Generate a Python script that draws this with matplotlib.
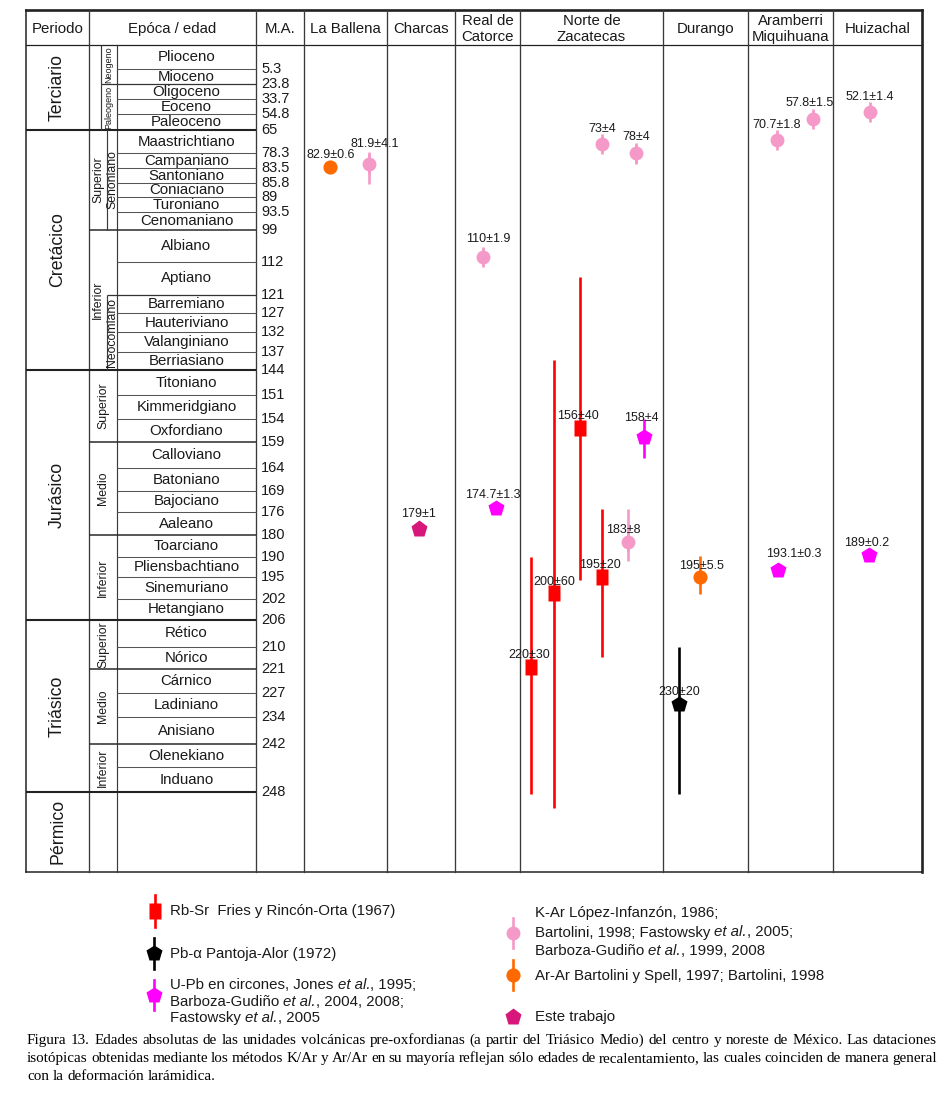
import numpy as np
import matplotlib
matplotlib.use("Agg")
import matplotlib.pyplot as plt

plt.rcParams['font.family'] = ['Liberation Sans', 'DejaVu Sans']

# ======================= DATA =======================
header_left = ["Periodo", "Epóca / edad", "M.A."]
localities = ["La Ballena", "Charcas", "Real de\nCatorce", "Norte de\nZacatecas",
              "Durango", "Aramberri\nMiquihuana", "Huizachal"]

periods = ["Terciario", "Cretácico", "Jurásico", "Triásico", "Pérmico"]
period_base = [65, 144, 206, 248]

stages = ["Plioceno", "Mioceno", "Oligoceno", "Eoceno", "Paleoceno",
          "Maastrichtiano", "Campaniano", "Santoniano", "Coniaciano", "Turoniano",
          "Cenomaniano", "Albiano", "Aptiano", "Barremiano", "Hauteriviano",
          "Valanginiano", "Berriasiano", "Titoniano", "Kimmeridgiano", "Oxfordiano",
          "Calloviano", "Batoniano", "Bajociano", "Aaleano", "Toarciano",
          "Pliensbachtiano", "Sinemuriano", "Hetangiano", "Rético", "Nórico",
          "Cárnico", "Ladiniano", "Anisiano", "Olenekiano", "Induano"]
stage_base = [5.3, 23.8, 33.7, 54.8, 65,
              78.3, 83.5, 85.8, 89, 93.5,
              99, 112, 121, 127, 132,
              137, 144, 151, 154, 159,
              164, 169, 176, 180, 190,
              195, 202, 206, 210, 221,
              227, 234, 242, 245, 248]

ma_ticks = [5.3, 23.8, 33.7, 54.8, 65, 78.3, 83.5, 85.8, 89, 93.5, 99, 112, 121,
            127, 132, 137, 144, 151, 154, 159, 164, 169, 176, 180, 190, 195, 202,
            206, 210, 221, 227, 234, 242, 248]
ma_tick_labels = ["5.3", "23.8", "33.7", "54.8", "65", "78.3", "83.5", "85.8", "89",
                  "93.5", "99", "112", "121", "127", "132", "137", "144", "151", "154",
                  "159", "164", "169", "176", "180", "190", "195", "202", "206", "210",
                  "221", "227", "234", "242", "248"]

epoch_bounds = [99, 159, 180, 221, 242]

sub_names = ["Neogeno", "Paleogeno", "Superior", "Senoniano", "Inferior", "Neocomiano",
             "Superior", "Medio", "Inferior", "Superior", "Medio", "Inferior"]
sub_top = [0, 23.8, 65, 65, 99, 121, 144, 159, 180, 206, 221, 242]
sub_bot = [23.8, 65, 99, 99, 144, 144, 159, 180, 206, 221, 242, 248]

# samples
s_loc = [0, 0, 2, 2, 1, 3, 3, 3, 3, 3, 3, 3, 3, 4, 4, 5, 5, 5, 6, 6]
s_method = ['Ar-Ar', 'K-Ar', 'K-Ar', 'U-Pb', 'Este', 'K-Ar', 'K-Ar', 'Rb-Sr', 'U-Pb',
            'K-Ar', 'Rb-Sr', 'Rb-Sr', 'Rb-Sr', 'Pb-a', 'Ar-Ar', 'K-Ar', 'K-Ar', 'U-Pb',
            'K-Ar', 'U-Pb']
s_age = [82.9, 81.9, 110, 174.7, 179, 73, 78, 156, 158, 183, 195, 200, 220, 230, 195,
         70.7, 57.8, 193.1, 52.1, 189]
s_err = [0.6, 4.1, 1.9, 1.3, 1, 4, 4, 40, 4, 8, 20, 60, 30, 20, 5.5, 1.8, 1.5, 0.3,
         1.4, 0.2]
s_label = ["82.9±0.6", "81.9±4.1", "110±1.9", "174.7±1.3", "179±1", "73±4", "78±4",
           "156±40", "158±4", "183±8", "195±20", "200±60", "220±30", "230±20",
           "195±5.5", "70.7±1.8", "57.8±1.5", "193.1±0.3", "52.1±1.4", "189±0.2"]

# legend texts (*...* = italic)
legend_left = [("Rb-Sr", ["Rb-Sr  Fries y Rincón-Orta (1967)"]),
               ("Pb-a", ["Pb-α Pantoja-Alor (1972)"]),
               ("U-Pb", ["U-Pb en circones, Jones *et al.*, 1995;",
                         "Barboza-Gudiño *et al.*, 2004, 2008;",
                         "Fastowsky *et al.*, 2005"])]
legend_right = [("K-Ar", ["K-Ar López-Infanzón, 1986;",
                          "Bartolini, 1998; Fastowsky *et al.*, 2005;",
                          "Barboza-Gudiño *et al.*, 1999, 2008"]),
                ("Ar-Ar", ["Ar-Ar Bartolini y Spell, 1997; Bartolini, 1998"]),
                ("Este", ["Este trabajo"])]

caption = ["Figura 13. Edades absolutas de las unidades volcánicas pre-oxfordianas (a partir del Triásico Medio) del centro y noreste de México. Las dataciones",
           "isotópicas obtenidas mediante los métodos K/Ar y Ar/Ar en su mayoría reflejan sólo edades de recalentamiento, las cuales coinciden de manera general",
           "con la deformación larámidica."]

# ======================= LAYOUT =======================
W, H = 951, 1095
TOP_AGE, BOTTOM_AGE = 0.0, 307.0
row_edges_px = [45, 69.3, 84, 99.3, 114.3, 130,
                153.3, 168.3, 182.7, 197.3, 212.3, 230,
                261.7, 295, 313.3, 331.7, 352.3, 370,
                395, 419.3, 442, 468.3, 490.7, 511.7, 535.3,
                557.3, 577.3, 598.7, 620,
                646.7, 669.3, 693.3, 717.3, 744, 767.3, 791.7,
                872]
scale_ages = [TOP_AGE] + stage_base + [BOTTOM_AGE]
col_x = [26, 89, 256, 304, 387, 455, 520, 663, 748, 833, 922]
X_EPOCH, X_NEO, X_SUB, X_STAGE, X_MA = 89, 101, 107, 117, 256
Y_TOP, Y_HEAD = 10, 45
sub_x0 = [101, 101, 89, 107, 89, 107, 89, 89, 89, 89, 89, 89]
sub_x1 = [117, 117, 107, 117, 107, 117, 117, 117, 117, 117, 117, 117]
sub_fs = [6.5, 6.5, 8.8, 8.8, 8.8, 8.8, 8.8, 8.8, 8.8, 8.8, 8.8, 8.8]

s_x = [330, 369, 483, 496, 419, 602, 636, 580, 644, 628, 602, 554, 531, 679, 700,
       777, 813, 778, 870, 869]
lab_dx = [1, 6, 5, -3, 0, 0, 0, -2, -3, -5, -2, 0, -2, 0, 1, 0, -3, 16, 0, -2]
lab_dy = [13, 21, 19, 14, 16, 16, 16.5, 13.5, 20, 13, 13.5, 11.5, 13, 12.5, 12, 16,
          16.5, 17, 16, 13]

RECT = [(-0.39, -0.5), (0.39, -0.5), (0.39, 0.5), (-0.39, 0.5), (-0.39, -0.5)]
styles = {
    'Rb-Sr': dict(color='#ff0000', marker=RECT, ms=11.0, stub=0),
    'Pb-a': dict(color='#000000', marker='p', ms=12.0, stub=0),
    'U-Pb': dict(color='#ff00ff', marker='p', ms=12.0, stub=0),
    'K-Ar': dict(color='#f59ac8', marker='o', ms=10.0, stub=14.0),
    'Ar-Ar': dict(color='#ff6a00', marker='o', ms=10.2, stub=0),
    'Este': dict(color='#d8177a', marker='p', ms=12.6, stub=0),
}
TXT = '#1a1a1a'
LINE = '#3a3a3a'

# ======================= FIGURE =======================
fig = plt.figure(figsize=(W / 100, H / 100), dpi=100)
ov = fig.add_axes([0, 0, 1, 1], zorder=0)
ov.set_xlim(0, W)
ov.set_ylim(H, 0)
ov.axis('off')
renderer = fig.canvas.get_renderer()

y_bot = row_edges_px[-1]
ax = fig.add_axes([col_x[0] / W, 1 - y_bot / H, (col_x[-1] - col_x[0]) / W,
                   (y_bot - row_edges_px[0]) / H], zorder=1)


def fwd(a):
    return np.interp(a, scale_ages, row_edges_px)


def inv(p):
    return np.interp(p, row_edges_px, scale_ages)


ax.set_xlim(col_x[0], col_x[-1])
ax.set_yscale('function', functions=(fwd, inv))
ax.set_ylim(BOTTOM_AGE, TOP_AGE)
ax.axis('off')

# ---- frame & header ----
ov.plot([col_x[0], col_x[-1]], [Y_TOP, Y_TOP], color='#222', lw=1.9, solid_capstyle='projecting')
ov.plot([col_x[0], col_x[-1]], [y_bot, y_bot], color='#222', lw=1.1, solid_capstyle='projecting')
ov.plot([col_x[0], col_x[-1]], [Y_HEAD, Y_HEAD], color='#222', lw=0.9)
for i, x in enumerate(col_x):
    lw = 1.9 if i == len(col_x) - 1 else (1.1 if i == 0 else 0.95)
    ov.plot([x, x], [Y_TOP, y_bot], color=LINE if 0 < i < len(col_x) - 1 else '#222', lw=lw)
ov.plot([X_STAGE, X_STAGE], [Y_HEAD, y_bot], color=LINE, lw=0.85)

head_cells = header_left + localities
for i, t in enumerate(head_cells):
    xc = (col_x[i] + col_x[i + 1]) / 2
    ov.text(xc, (Y_TOP + Y_HEAD) / 2 + 1.5, t, ha='center', va='center', fontsize=10.8,
            color=TXT, linespacing=1.12)

# ---- stage boundaries ----
for b in stage_base:
    if b in period_base:
        ax.hlines(b, col_x[0], X_MA, color='#222', lw=1.5)
    elif b in epoch_bounds:
        ax.hlines(b, X_EPOCH, X_MA, color='#2a2a2a', lw=1.1)
    elif b == 23.8:
        ax.hlines(b, X_NEO, X_MA, color='#333', lw=0.9)
    elif b == 121:
        ax.hlines(b, X_SUB, X_MA, color='#333', lw=0.9)
    else:
        ax.hlines(b, X_STAGE, X_MA, color='#555', lw=0.75)

for i in range(len(sub_names)):
    if sub_x0[i] > X_EPOCH:
        ax.vlines(sub_x0[i], sub_top[i], sub_bot[i], color=LINE, lw=0.85)

prev = TOP_AGE
for name, base in zip(stages, stage_base):
    ym = inv((fwd(prev) + fwd(base)) / 2)
    ax.text((X_STAGE + X_MA) / 2, ym, name, ha='center', va='center', fontsize=10.8,
            color=TXT)
    prev = base

prev = TOP_AGE
for name, base in zip(periods, period_base + [BOTTOM_AGE]):
    ym = inv((fwd(prev) + fwd(base)) / 2)
    ax.text((col_x[0] + col_x[1]) / 2, ym, name, ha='center', va='center',
            fontsize=12.8, rotation=90, color=TXT)
    prev = base

for i, name in enumerate(sub_names):
    ym = inv((fwd(sub_top[i]) + fwd(sub_bot[i])) / 2)
    ax.text((sub_x0[i] + sub_x1[i]) / 2, ym, name, ha='center', va='center',
            fontsize=sub_fs[i], rotation=90, color=TXT)

for t, lab in zip(ma_ticks, ma_tick_labels):
    ax.text(X_MA + 5, t, lab, ha='left', va='center', fontsize=10.5, color=TXT)

# ---- samples ----
for i in range(len(s_age)):
    st = styles[s_method[i]]
    x = s_x[i]
    a = s_age[i]
    ax.vlines(x, a - s_err[i], a + s_err[i], color=st['color'], lw=1.9, zorder=3)
    if st['stub']:
        ax.plot([x], [a], marker='|', ms=st['stub'], mew=2.0, color=st['color'],
                zorder=3, linestyle='none')
    ax.plot([x], [a], marker=st['marker'], ms=st['ms'], color=st['color'], mec='none',
            zorder=4, linestyle='none', clip_on=False)
    ax.annotate(s_label[i], xy=(x, a), xytext=(lab_dx[i], lab_dy[i] - 4),
                textcoords='offset pixels', ha='center', va='baseline', fontsize=9.0,
                color=TXT, zorder=5, annotation_clip=False)

# ---- legend ----
leg_key_left = [(155, 911, 16), (154, 953, 15.5), (154, 995, 15)]
leg_txt_left = [[911], [954], [985, 1001.5, 1018]]
leg_key_right = [(513, 933, 15), (513, 975, 15), (513, 1017, 0)]
leg_txt_right = [[913.5, 932.5, 951], [976], [1017]]


def draw_rich(x, y, s, fs):
    parts = s.split('*')
    for k, p in enumerate(parts):
        if not p:
            continue
        t = ov.text(x, y + 4, p, ha='left', va='baseline', fontsize=fs, color=TXT,
                    style='italic' if k % 2 else 'normal')
        bb = t.get_window_extent(renderer)
        x += bb.width


def draw_legend(entries, keys, ys, xt):
    for (meth, lines), (kx, ky, kh), yl in zip(entries, keys, ys):
        st = styles[meth]
        if kh:
            ov.plot([kx, kx], [ky - kh, ky + kh], color=st['color'], lw=1.9)
        ov.plot([kx], [ky], marker=st['marker'], ms=st['ms'], color=st['color'],
                mec='none', linestyle='none')
        for line, y in zip(lines, yl):
            draw_rich(xt, y, line, 10.8)


draw_legend(legend_left, leg_key_left, leg_txt_left, 170)
draw_legend(legend_right, leg_key_right, leg_txt_right, 535)

# ---- caption (justified) ----
cap_x0, cap_x1 = 27, 937
cap_y = [1044, 1062, 1080]


def measure(words, fs):
    arts = [ov.text(0, 0, w, fontsize=fs, family='Liberation Serif', ha='left',
                    va='baseline', color='black') for w in words]
    widths = [a.get_window_extent(renderer).width for a in arts]
    return arts, widths


w0 = caption[0].split(' ')
arts, widths = measure(w0, 10)
nat = sum(widths) + (len(w0) - 1) * 10 * 100 / 72 * 0.25
for a in arts:
    a.remove()
cap_fs = min(11.0, 10 * 898 / nat)

for k, line in enumerate(caption):
    words = line.split(' ')
    arts, widths = measure(words, cap_fs)
    if k < len(caption) - 1:
        gap = (cap_x1 - cap_x0 - sum(widths)) / (len(words) - 1)
    else:
        gap = cap_fs * 100 / 72 * 0.25
    x = cap_x0
    for a, w in zip(arts, widths):
        a.set_position((x, cap_y[k]))
        x += w + gap

fig.savefig("out.png", dpi=100)
